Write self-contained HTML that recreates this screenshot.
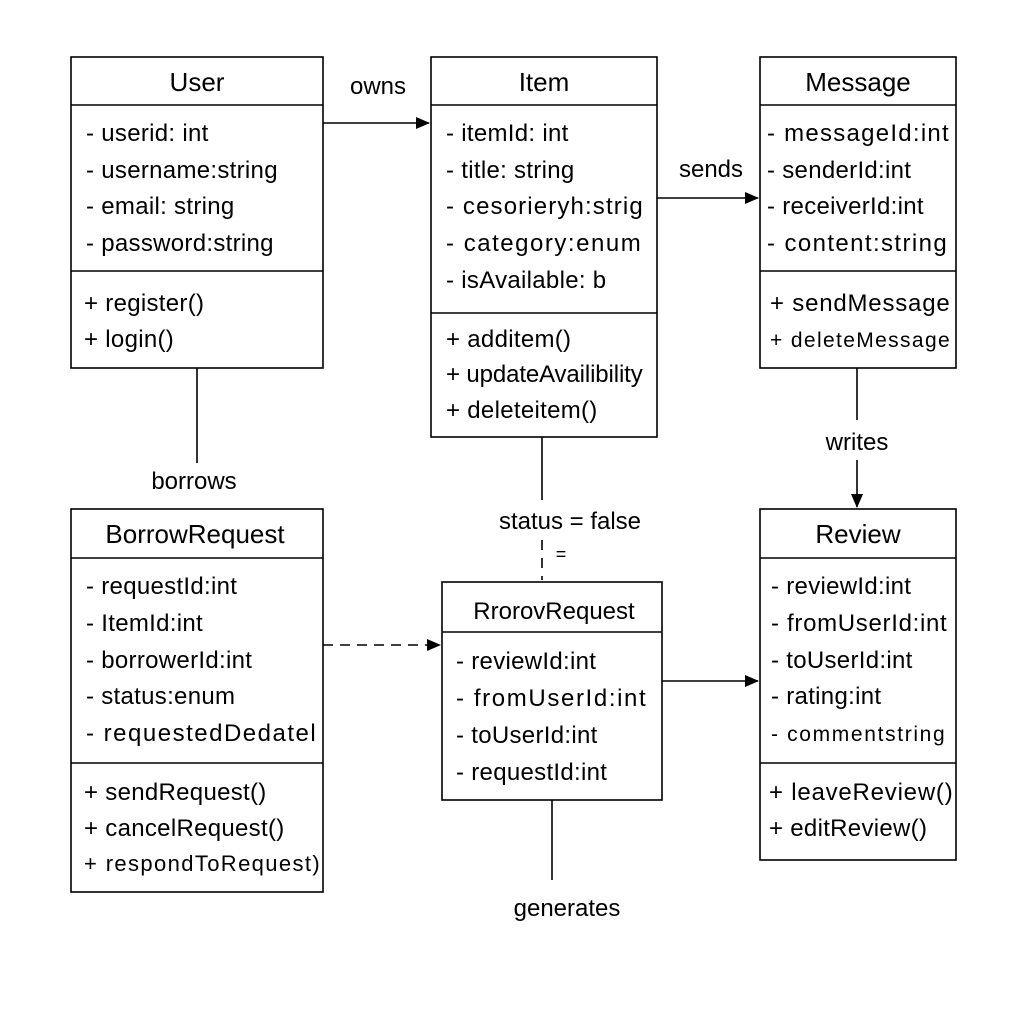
<!DOCTYPE html>
<html><head><style>
body{margin:0;background:#fff;}
svg{display:block}
text{font-family:"Liberation Sans",sans-serif;fill:#000;}
.t{font-size:26px;text-anchor:middle}
.a{font-size:24px;letter-spacing:0.3px}
.l{font-size:24px;text-anchor:middle}
rect,line{stroke:#000;stroke-width:1.6;fill:none}
</style></head><body>
<svg width="1024" height="1024" viewBox="0 0 1024 1024">
<defs><marker id="ar" markerWidth="14" markerHeight="12" refX="13" refY="6" orient="auto" markerUnits="userSpaceOnUse"><path d="M0,0 L14,6 L0,12 z" fill="#000"/></marker></defs>

<!-- User -->
<rect x="71" y="57" width="252" height="311"/>
<line x1="71" y1="105" x2="323" y2="105"/><line x1="71" y1="271" x2="323" y2="271"/>
<text class="t" x="197" y="91">User</text>
<text class="a" x="86" y="141">- userid: int</text>
<text class="a" x="86" y="178">- username:string</text>
<text class="a" x="86" y="214">- email: string</text>
<text class="a" x="86" y="251">- password:string</text>
<text class="a" x="84" y="311">+ register()</text>
<text class="a" x="84" y="347">+ login()</text>

<!-- Item -->
<rect x="431" y="57" width="226" height="380"/>
<line x1="431" y1="105" x2="657" y2="105"/><line x1="431" y1="313" x2="657" y2="313"/>
<text class="t" x="544" y="91">Item</text>
<text class="a" x="446" y="141">- itemId: int</text>
<text class="a" x="446" y="178">- title: string</text>
<text class="a" x="446" y="214" textLength="197">- cesorieryh:strig</text>
<text class="a" x="446" y="251" textLength="195">- category:enum</text>
<text class="a" x="446" y="288">- isAvailable: b</text>
<text class="a" x="446" y="347">+ additem()</text>
<text class="a" x="446" y="382" textLength="197">+ updateAvailibility</text>
<text class="a" x="446" y="418">+ deleteitem()</text>

<!-- Message -->
<rect x="760" y="57" width="196" height="311"/>
<line x1="760" y1="105" x2="956" y2="105"/><line x1="760" y1="271" x2="956" y2="271"/>
<text class="t" x="858" y="91">Message</text>
<text class="a" x="767" y="141" textLength="182">- messageId:int</text>
<text class="a" x="767" y="178">- senderId:int</text>
<text class="a" x="767" y="214">- receiverId:int</text>
<text class="a" x="767" y="251" textLength="180">- content:string</text>
<text class="a" x="770" y="311" textLength="180">+ sendMessage</text>
<text class="a" x="770" y="347" style="font-size:21px" textLength="180">+ deleteMessage</text>

<!-- BorrowRequest -->
<rect x="71" y="509" width="252" height="383"/>
<line x1="71" y1="558" x2="323" y2="558"/><line x1="71" y1="763" x2="323" y2="763"/>
<text class="t" x="195" y="543">BorrowRequest</text>
<text class="a" x="86" y="594">- requestId:int</text>
<text class="a" x="86" y="631">- ItemId:int</text>
<text class="a" x="86" y="668">- borrowerId:int</text>
<text class="a" x="86" y="704">- status:enum</text>
<text class="a" x="86" y="741" textLength="230">- requestedDedatel</text>
<text class="a" x="84" y="800">+ sendRequest()</text>
<text class="a" x="84" y="836">+ cancelRequest()</text>
<text class="a" x="84" y="871" style="font-size:22px" textLength="236">+ respondToRequest)</text>

<!-- RrorovRequest -->
<rect x="442" y="582" width="220" height="218"/>
<line x1="442" y1="632" x2="662" y2="632"/>
<text class="t" x="554" y="619" style="font-size:24px">RrorovRequest</text>
<text class="a" x="456" y="669">- reviewId:int</text>
<text class="a" x="456" y="706" textLength="190">- fromUserId:int</text>
<text class="a" x="456" y="743">- toUserId:int</text>
<text class="a" x="456" y="780">- requestId:int</text>

<!-- Review -->
<rect x="760" y="509" width="196" height="351"/>
<line x1="760" y1="558" x2="956" y2="558"/><line x1="760" y1="763" x2="956" y2="763"/>
<text class="t" x="858" y="543">Review</text>
<text class="a" x="771" y="594">- reviewId:int</text>
<text class="a" x="771" y="631" textLength="176">- fromUserId:int</text>
<text class="a" x="771" y="668">- toUserId:int</text>
<text class="a" x="771" y="704">- rating:int</text>
<text class="a" x="771" y="741" style="font-size:21px" textLength="174">- commentstring</text>
<text class="a" x="769" y="800" textLength="184">+ leaveReview()</text>
<text class="a" x="769" y="836">+ editReview()</text>

<!-- connectors -->
<line x1="323" y1="123" x2="429" y2="123" marker-end="url(#ar)"/>
<text class="l" x="378" y="94">owns</text>
<line x1="657" y1="198" x2="758" y2="198" marker-end="url(#ar)"/>
<text class="l" x="711" y="177">sends</text>
<line x1="857" y1="368" x2="857" y2="420"/>
<line x1="857" y1="460" x2="857" y2="507" marker-end="url(#ar)"/>
<text class="l" x="857" y="450">writes</text>
<line x1="197" y1="368" x2="197" y2="463"/>
<text class="l" x="194" y="489">borrows</text>
<line x1="542" y1="437" x2="542" y2="500"/>
<text class="l" x="570" y="529">status = false</text>
<line x1="542" y1="540" x2="542" y2="580" style="stroke-dasharray:10,8"/>
<text class="l" x="561" y="560" style="font-size:18px">=</text>
<line x1="323" y1="645" x2="440" y2="645" style="stroke-dasharray:10,7" marker-end="url(#ar)"/>
<line x1="662" y1="681" x2="758" y2="681" marker-end="url(#ar)"/>
<line x1="552" y1="800" x2="552" y2="880"/>
<text class="l" x="567" y="916">generates</text>
</svg>
</body></html>
